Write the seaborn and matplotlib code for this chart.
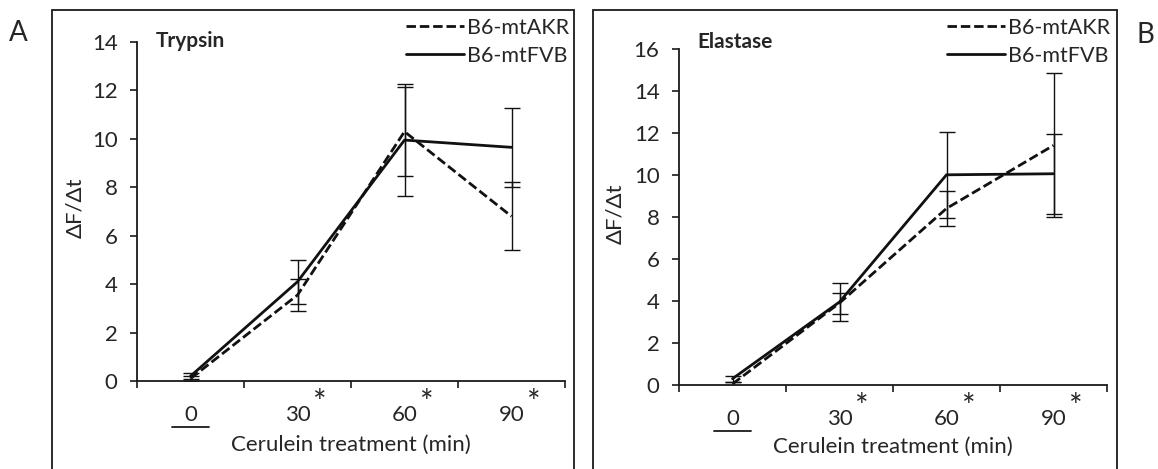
import matplotlib
matplotlib.use("Agg")
import matplotlib.pyplot as plt
from matplotlib.patches import Rectangle
from matplotlib.lines import Line2D
import seaborn as sns
import pandas as pd

# values
times = ["0", "30", "60", "90"]
strains = ["B6-mtAKR", "B6-mtFVB"]

trypsin_akr = [0.1, 3.55, 10.3, 6.8]
trypsin_akr_err = [0.12, 0.65, 1.85, 1.4]
trypsin_fvb = [0.2, 4.1, 9.95, 9.65]
trypsin_fvb_err = [0.12, 0.9, 2.32, 1.63]

elastase_akr = [0.05, 3.9, 8.4, 11.4]
elastase_akr_err = [0.1, 0.5, 0.85, 3.43]
elastase_fvb = [0.3, 3.95, 10.0, 10.05]
elastase_fvb_err = [0.15, 0.92, 2.05, 1.9]

sns.set_style("white")
plt.rcParams["font.family"] = ["Lato", "DejaVu Sans"]
FS = 16

W, H = 1158, 469
fig = plt.figure(figsize=(W / 100, H / 100), dpi=100)


def px_axes(left, right, top, bottom):
    return fig.add_axes([left / W, 1 - bottom / H, (right - left) / W, (bottom - top) / H])


def frame(left, right, top):
    fig.patches.append(Rectangle((left / W, -0.1), (right - left) / W, 1 - top / H + 0.1,
                                 transform=fig.transFigure, fill=False,
                                 edgecolor="#1a1a1a", linewidth=1.3))


def panel(ax, akr, akr_err, fvb, fvb_err, ymax, title, title_y, xlab_y, ylab_x,
          legend_x, legend_top):
    df = pd.DataFrame({
        "time": times * 2,
        "strain": [strains[0]] * 4 + [strains[1]] * 4,
        "value": akr + fvb,
    })
    sns.lineplot(data=df, x="time", y="value", hue="strain", style="strain",
                 palette=["#111111", "#111111"],
                 dashes={strains[0]: (3.4, 1.4), strains[1]: ""},
                 linewidth=2.0, ax=ax, legend=False, sort=False)
    for vals, errs in [(akr, akr_err), (fvb, fvb_err)]:
        ax.errorbar(range(4), vals, yerr=errs, fmt="none", ecolor="#111111",
                    elinewidth=1.0, capsize=5.5, capthick=1.0)

    ax.set_xlim(-0.5, 3.5)
    ax.set_ylim(0, ymax)
    ax.set_yticks(range(0, ymax + 1, 2))
    ax.set_xticks(range(4))
    ax.set_xticklabels(times)
    ax.set_xticks([-0.5, 0.5, 1.5, 2.5, 3.5], minor=True)
    ax.tick_params(axis="x", which="major", length=0, pad=17, labelsize=FS)
    ax.tick_params(axis="x", which="minor", length=5, width=1.2, direction="out",
                   color="#1a1a1a", bottom=True)
    ax.tick_params(axis="y", which="major", length=5, width=1.2, direction="out",
                   color="#1a1a1a", left=True, pad=9, labelsize=FS)
    for s in ["top", "right"]:
        ax.spines[s].set_visible(False)
    for s in ["left", "bottom"]:
        ax.spines[s].set_color("#1a1a1a")
        ax.spines[s].set_linewidth(1.3)

    ax.set_xlabel("Cerulein treatment (min)", fontsize=FS)
    ax.set_ylabel("ΔF/Δt", fontsize=FS)
    ax.xaxis.set_label_coords(0.5, xlab_y)
    ax.yaxis.set_label_coords(ylab_x, 0.51)

    ax.text(0.043, title_y, title, transform=ax.transAxes, fontsize=15,
            fontweight="bold", va="center", ha="left")

    # significance stars and underline under the baseline
    tr = ax.get_xaxis_transform()
    for i in range(1, 4):
        ax.text(i + 0.21, -0.095, "*", transform=tr, ha="center", va="baseline",
                fontsize=23, clip_on=False)
    ax.plot([-0.17, 0.17], [-0.136, -0.136], transform=tr, color="#1a1a1a",
            linewidth=1.3, clip_on=False)

    handles = [Line2D([], [], color="#111111", linewidth=2.0, dashes=(3.4, 1.4)),
               Line2D([], [], color="#111111", linewidth=2.0)]
    fig.legend(handles, strains, loc="upper left",
               bbox_to_anchor=(legend_x / W, 1 - legend_top / H),
               frameon=False, fontsize=15.5, handlelength=2.7, handletextpad=0.15,
               labelspacing=0.36, borderpad=0, borderaxespad=0)


axA = px_axes(137, 565, 42, 381)
axB = px_axes(679, 1107, 48.7, 385)

panel(axA, trypsin_akr, trypsin_akr_err, trypsin_fvb, trypsin_fvb_err, 14,
      "Trypsin", 1.003, -0.16, -0.12, 406, 18)
panel(axB, elastase_akr, elastase_akr_err, elastase_fvb, elastase_fvb_err, 16,
      "Elastase", 1.02, -0.155, -0.126, 947, 18)

frame(52, 574, 10)
frame(593, 1117, 10)

fig.text(18 / W, 1 - 33 / H, "A", fontsize=20, ha="center", va="center")
fig.text(1145 / W, 1 - 35 / H, "B", fontsize=20, ha="center", va="center")

fig.savefig("out.png", dpi=100)
